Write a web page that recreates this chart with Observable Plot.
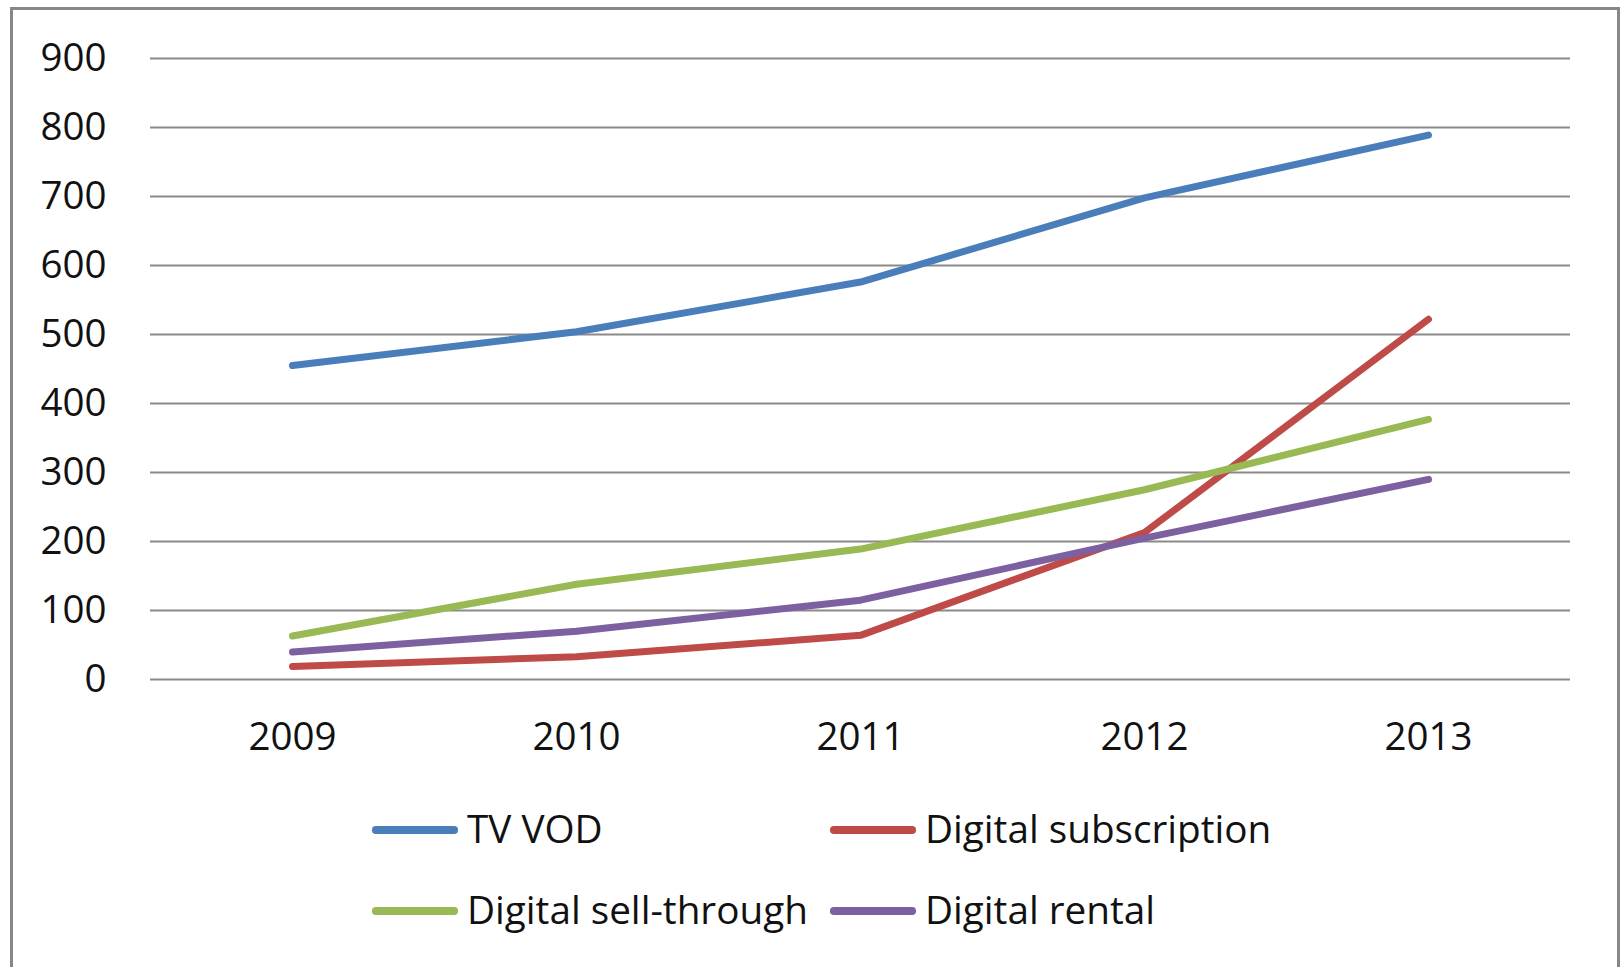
<!DOCTYPE html>
<html>
<head>
<meta charset="utf-8">
<script src="https://cdn.jsdelivr.net/npm/d3@7"></script>
<script src="https://cdn.jsdelivr.net/npm/@observablehq/plot@0.6"></script>
<style>
  html, body { margin: 0; padding: 0; background: #fff; }
  #wrap { position: relative; width: 1620px; height: 967px; overflow: hidden; font-family: "Open Sans", sans-serif; }
  #frame { position: absolute; left: 10px; top: 7px; width: 1604px; height: 1000px; border: 3px solid #878787; border-bottom: none; box-sizing: content-box; }
  #chart { position: absolute; left: 0; top: 0; }
  .sw { position: absolute; height: 7.5px; border-radius: 3.75px; }
  .lt { position: absolute; font-size: 38.7px; line-height: 50px; color: #111; white-space: nowrap; }
</style>
</head>
<body>
<div id="wrap">
  <div id="frame"></div>
  <div id="chart"></div>
  <div id="legend"></div>
</div>
<script>
const years = ["2009", "2010", "2011", "2012", "2013"];
const tvVod = [455, 504, 576, 698, 789];
const digitalSubscription = [19, 33, 64, 213, 522];
const digitalSellThrough = [63, 138, 189, 275, 377];
const digitalRental = [40, 70, 115, 205, 290];
const seriesNames = ["TV VOD", "Digital subscription", "Digital sell-through", "Digital rental"];
const seriesColors = ["#4a7ebb", "#be4b48", "#98b954", "#7d60a0"];
const yTicks = [0, 100, 200, 300, 400, 500, 600, 700, 800, 900];

const seriesValues = [tvVod, digitalSubscription, digitalSellThrough, digitalRental];
const data = [];
seriesNames.forEach((s, i) => years.forEach((y, j) => data.push({series: s, year: y, value: seriesValues[i][j]})));

const chart = Plot.plot({
  width: 1620,
  height: 760,
  marginLeft: 150,
  marginRight: 50,
  marginTop: 58,
  marginBottom: 81,
  x: {type: "point", domain: years, padding: 0.5},
  y: {domain: [0, 900]},
  color: {domain: seriesNames, range: seriesColors},
  style: {fontFamily: "'Open Sans', sans-serif", fontSize: "38.5px", color: "#111", background: "transparent"},
  marks: [
    Plot.ruleY(yTicks, {stroke: "#8a8a8a", strokeWidth: 2}),
    Plot.axisY({ticks: yTicks, tickSize: 0, tickPadding: 44, label: null, tickFormat: d => String(d)}),
    Plot.axisX({tickSize: 0, tickPadding: 43, label: null}),
    Plot.lineY(data, {x: "year", y: "value", z: "series", stroke: "series", strokeWidth: 7, strokeLinecap: "round", strokeLinejoin: "round"})
  ]
});
document.getElementById("chart").appendChild(chart);

// legend
const legend = document.getElementById("legend");
const legendPos = [
  {sx: 372, tx: 467, cy: 830},
  {sx: 830, tx: 925, cy: 830},
  {sx: 372, tx: 467, cy: 911},
  {sx: 830, tx: 925, cy: 911}
];
seriesNames.forEach((name, i) => {
  const p = legendPos[i];
  const sw = document.createElement("div");
  sw.className = "sw";
  sw.style.left = p.sx + "px";
  sw.style.width = "86px";
  sw.style.top = (p.cy - 3.75) + "px";
  sw.style.background = seriesColors[i];
  legend.appendChild(sw);
  const t = document.createElement("div");
  t.className = "lt";
  t.style.left = p.tx + "px";
  t.style.top = (p.cy - 27) + "px";
  t.textContent = name;
  legend.appendChild(t);
});
</script>
</body>
</html>
